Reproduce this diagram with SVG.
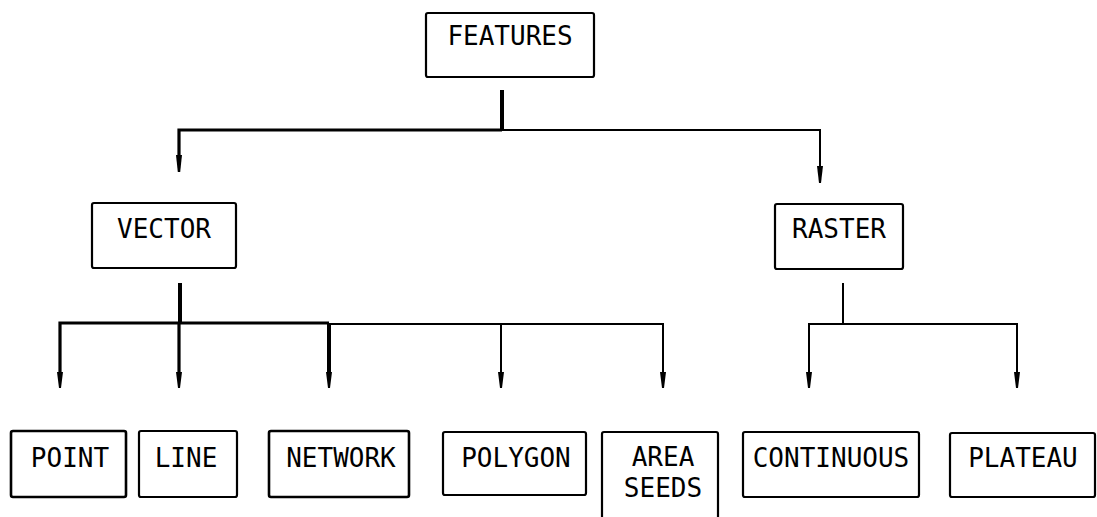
<svg xmlns="http://www.w3.org/2000/svg" width="1097" height="517" viewBox="0 0 1097 517">
  <style>
    .box { fill: #ffffff; stroke: #000000; stroke-width: 2.2; }
    .lbl { font-family: "DejaVu Sans Mono", "Liberation Mono", monospace; font-size: 26px; fill: #000000; text-anchor: middle; }
    .thick { fill: none; stroke: #000000; stroke-width: 3.2; }
    .thin { fill: none; stroke: #000000; stroke-width: 2; }
    .vert { fill: none; stroke: #000000; stroke-width: 4; }
  </style>
  <defs>
    <marker id="arr" markerUnits="userSpaceOnUse" markerWidth="8" markerHeight="16" refX="4" refY="14" orient="auto-start-reverse" viewBox="0 0 8 16">
      <path d="M1,0 L7,0 L4.8,3 L4.3,14 L3.7,14 L3.2,3 Z" fill="#000000"/>
    </marker>
  </defs>
  <rect width="1097" height="517" fill="#ffffff"/>

  <g id="connectors">
    <!-- FEATURES -> VECTOR / RASTER -->
    <line class="vert" x1="502" y1="90" x2="502" y2="131"/>
    <path class="thick" d="M502,130 L179,130 L179,158"/>
    <path d="M176,155 L182,155 L180.2,172 L177.8,172 Z" fill="#000"/>
    <path class="thin" d="M502,130 L820,130 L820,168"/>
    <path d="M817,166 L823,166 L821,183 L819,183 Z" fill="#000"/>

    <!-- VECTOR -> children -->
    <line class="vert" x1="180" y1="283" x2="180" y2="324"/>
    <path class="thick" d="M60,374 L60,323 L329,323"/>
    <line class="thick" x1="179" y1="323" x2="179" y2="374"/>
    <line class="vert" x1="329" y1="323" x2="329" y2="374"/>
    <path class="thin" d="M329,324 L663,324 L663,374"/>
    <line class="thin" x1="501" y1="324" x2="501" y2="374"/>
    <path d="M57,372 L63,372 L61,388 L59,388 Z" fill="#000"/>
    <path d="M176,372 L182,372 L180,388 L178,388 Z" fill="#000"/>
    <path d="M326,372 L332,372 L330,388 L328,388 Z" fill="#000"/>
    <path d="M498,372 L504,372 L502,388 L500,388 Z" fill="#000"/>
    <path d="M660,372 L666,372 L664,388 L662,388 Z" fill="#000"/>

    <!-- RASTER -> children -->
    <line class="thin" x1="843" y1="283" x2="843" y2="325"/>
    <path class="thin" d="M809,374 L809,324 L1017,324 L1017,374"/>
    <path d="M806,372 L812,372 L810,388 L808,388 Z" fill="#000"/>
    <path d="M1014,372 L1020,372 L1018,388 L1016,388 Z" fill="#000"/>
  </g>

  <g id="features">
    <rect class="box" x="426" y="13" width="168" height="64" rx="2"/>
    <text class="lbl" x="510" y="45">FEATURES</text>
  </g>
  <g id="vector">
    <rect class="box" x="92" y="203" width="144" height="65" rx="2"/>
    <text class="lbl" x="164" y="238">VECTOR</text>
  </g>
  <g id="raster">
    <rect class="box" x="775" y="204" width="128" height="65" rx="2"/>
    <text class="lbl" x="839" y="238">RASTER</text>
  </g>
  <g id="point">
    <rect class="box" x="11" y="431" width="115" height="66" rx="2" style="stroke-width:2.6"/>
    <text class="lbl" x="70" y="467">POINT</text>
  </g>
  <g id="line">
    <rect class="box" x="139" y="431" width="98" height="66" rx="2"/>
    <text class="lbl" x="186" y="467">LINE</text>
  </g>
  <g id="network">
    <rect class="box" x="269" y="431" width="140" height="66" rx="2" style="stroke-width:2.6"/>
    <text class="lbl" x="341" y="467">NETWORK</text>
  </g>
  <g id="polygon">
    <rect class="box" x="443" y="432" width="143" height="63" rx="2"/>
    <text class="lbl" x="516" y="467">POLYGON</text>
  </g>
  <g id="area-seeds">
    <rect class="box" x="602" y="432" width="116" height="100" rx="2"/>
    <text class="lbl" x="663" y="466">AREA</text>
    <text class="lbl" x="663" y="497">SEEDS</text>
  </g>
  <g id="continuous">
    <rect class="box" x="743" y="432" width="176" height="65" rx="2"/>
    <text class="lbl" x="831" y="467">CONTINUOUS</text>
  </g>
  <g id="plateau">
    <rect class="box" x="950" y="433" width="145" height="64" rx="2"/>
    <text class="lbl" x="1023" y="467">PLATEAU</text>
  </g>
</svg>
